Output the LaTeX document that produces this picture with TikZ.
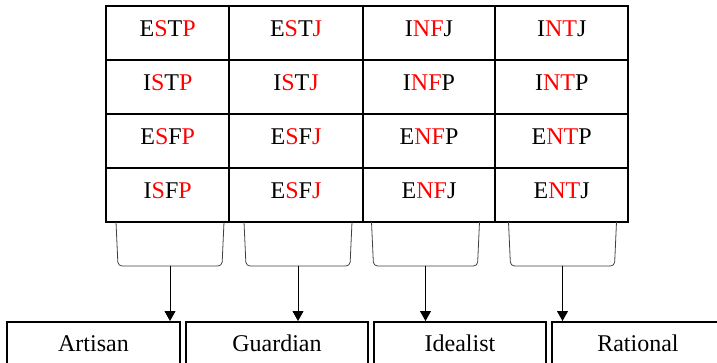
\documentclass[tikz,border=0pt]{standalone}
\usepackage{fontspec}
\setmainfont{Liberation Serif}
\usetikzlibrary{arrows.meta}
\definecolor{keyred}{RGB}{255,0,0}
\newcommand{\kr}[1]{\textcolor{keyred}{#1}}

\begin{document}
\begin{tikzpicture}[x=1pt,y=-1pt,
  font=\fontsize{24}{28}\selectfont,
  grid/.style={line width=1.9pt, draw=black},
  cell/.style={anchor=base, inner sep=0pt},
  group/.style={draw=black, line width=1.9pt, inner sep=0pt,
    text height=16pt, text depth=0pt, minimum height=43pt, anchor=north west},
  link/.style={line width=0.9pt, -{Triangle[width=11pt,length=10pt]}},
  cupbracket/.pic={\draw[rounded corners=4pt, line width=0.8pt, draw=black!75]
    (-54,-44) -- (-52,0) -- (52,0) -- (54,-44);}
]
\useasboundingbox (0,0) rectangle (717,363);
\clip (0,0) rectangle (717,363);

% temperament grid
\draw[grid] (106,6) rectangle (628,222);
\foreach \xx in {229.3,362.7,495.3} \draw[grid] (\xx,6) -- (\xx,222);
\foreach \yy in {60,114.3,168.3} \draw[grid] (106,\yy) -- (628,\yy);

% row 1
\node[cell] (c11) at (167.7,36.7) {E\kr{S}T\kr{P}};
\node[cell] (c12) at (296,36.7) {E\kr{S}T\kr{J}};
\node[cell] (c13) at (429,36.7) {I\kr{NF}J};
\node[cell] (c14) at (561.7,36.7) {I\kr{NT}J};
% row 2
\node[cell] (c21) at (167.7,90.7) {I\kr{S}T\kr{P}};
\node[cell] (c22) at (296,90.7) {I\kr{S}T\kr{J}};
\node[cell] (c23) at (429,90.7) {I\kr{NF}P};
\node[cell] (c24) at (561.7,90.7) {I\kr{NT}P};
% row 3
\node[cell] (c31) at (167.7,144.7) {E\kr{S}F\kr{P}};
\node[cell] (c32) at (296,144.7) {E\kr{S}F\kr{J}};
\node[cell] (c33) at (429,144.7) {E\kr{NF}P};
\node[cell] (c34) at (561.7,144.7) {E\kr{NT}P};
% row 4
\node[cell] (c41) at (167.7,198.7) {I\kr{S}F\kr{P}};
\node[cell] (c42) at (296,198.7) {E\kr{S}F\kr{J}};
\node[cell] (c43) at (429,198.7) {E\kr{NF}J};
\node[cell] (c44) at (561.7,198.7) {E\kr{NT}J};

% brackets under each column
\coordinate (b1) at (170,266);
\coordinate (b2) at (298,266);
\coordinate (b3) at (425.5,266);
\coordinate (b4) at (562.5,266);
\foreach \b in {b1,b2,b3,b4} \pic at (\b) {cupbracket};

% temperament groups
\node[group, minimum width=173pt] (artisan) at (6,321) {Artisan};
\node[group, minimum width=182pt] (guardian) at (185,321) {Guardian};
\node[group, minimum width=172pt] (idealist) at (373,321) {Idealist};
\node[group, minimum width=172pt] (rational) at (551,321) {Rational};

% arrows
\draw[link] (b1) -- (b1 |- artisan.north);
\draw[link] (b2) -- (b2 |- guardian.north);
\draw[link] (b3) -- (b3 |- idealist.north);
\draw[link] (b4) -- (b4 |- rational.north);
\end{tikzpicture}
\end{document}
